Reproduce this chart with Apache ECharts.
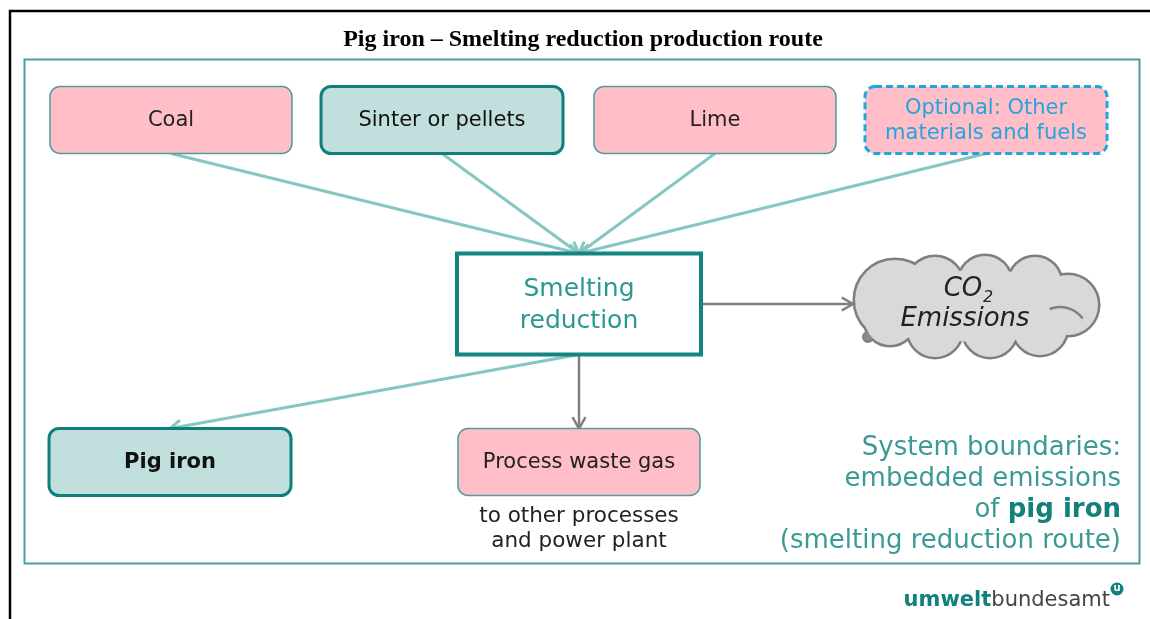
<!DOCTYPE html>
<html lang="en">
<head>
<meta charset="UTF-8">
<title>Pig iron – Smelting reduction production route</title>
<script src="https://cdn.jsdelivr.net/npm/echarts@6/dist/echarts.min.js"></script>
<style>
  html, body { margin: 0; padding: 0; background: #fff; }
  #main { width: 1150px; height: 619px; }
</style>
</head>
<body>
<div id="main"></div>
<script>
// diagram nodes (diagram units = one unit per px of the sheet)
var nodeNames = ['Coal', 'Sinter or pellets', 'Lime', 'Optional: Other\nmaterials and fuels',
                 'Smelting\nreduction', 'Pig iron', 'Process waste gas', 'CO2 Emissions'];
var nodeKinds = ['input', 'product', 'input', 'optional', 'process', 'product', 'input', 'cloud'];
var nodeX = [171, 442, 715, 986, 579, 170, 579, 975];
var nodeY = [120, 120, 120, 120, 304, 462, 462, 305];

// flows between nodes
var linkFrom = [0, 1, 2, 3, 4, 4, 4];
var linkTo   = [4, 4, 4, 4, 5, 6, 7];
var linkKind = ['feed', 'feed', 'feed', 'feed', 'feed', 'gas', 'gas'];

var FONT = '"DejaVu Sans", Verdana, sans-serif';
var TEAL = '#0f7f7b';
var PINK = '#ffbec8';
var MINT = '#c0dfdd';

var kindStyle = {
    input:    {w: 242, h: 67,  r: 10, fill: PINK, stroke: '#4c9f9c', lw: 1.5, dash: null, color: '#222', size: 21},
    product:  {w: 242, h: 67,  r: 10, fill: MINT, stroke: TEAL, lw: 3, dash: null, color: '#111', size: 21},
    optional: {w: 242, h: 67,  r: 10, fill: PINK, stroke: '#1ea7dd', lw: 3, dash: [7, 4], color: '#28a4dc', size: 21},
    process:  {w: 244, h: 101, r: 0,  fill: '#fff', stroke: '#138480', lw: 4, dash: null, color: '#2a9893', size: 25}
};

function box(i) {
    var k = nodeKinds[i];
    if (k === 'cloud') return {x0: 853, x1: 1098, y0: 257, y1: 357};
    var s = kindStyle[k];
    return {x0: nodeX[i] - s.w / 2, x1: nodeX[i] + s.w / 2, y0: nodeY[i] - s.h / 2, y1: nodeY[i] + s.h / 2};
}

// cloud outline made of overlapping bumps [dx, dy, r]
var cloudBumps = [[-80, -5, 40], [-40, -20, 28], [10, -23, 26], [60, -22, 26], [93, 0, 30],
                  [65, 23, 27], [15, 25, 27], [-40, 25, 27], [-85, 15, 25]];

function renderNode(params, api) {
    var i = api.value(2);
    var p = api.coord([api.value(0), api.value(1)]);
    var k = nodeKinds[i];
    if (k === 'cloud') {
        var outer = [], inner = [];
        cloudBumps.forEach(function (b) {
            outer.push({type: 'circle', shape: {cx: p[0] + b[0], cy: p[1] + b[1], r: b[2]},
                style: {fill: '#d9d9d9', stroke: '#7f7f7f', lineWidth: 5}});
            inner.push({type: 'circle', shape: {cx: p[0] + b[0], cy: p[1] + b[1], r: b[2]},
                style: {fill: '#d9d9d9'}});
        });
        inner.push({type: 'ellipse', shape: {cx: p[0] + 5, cy: p[1] + 1, rx: 100, ry: 36}, style: {fill: '#d9d9d9'}});
        var tail = [
            {type: 'circle', shape: {cx: p[0] - 107, cy: p[1] + 32, r: 5}, style: {fill: '#8a8a8a', stroke: '#7f7f7f', lineWidth: 2}},
            {type: 'circle', shape: {cx: p[0] - 100, cy: p[1] + 28, r: 4}, style: {fill: 'none', stroke: '#7f7f7f', lineWidth: 2}}
        ];
        var marks = [
            {type: 'arc', shape: {cx: p[0] + 85, cy: p[1] + 30, r: 28, startAngle: -Math.PI * 0.62, endAngle: -Math.PI * 0.2},
                style: {stroke: '#7f7f7f', lineWidth: 2.5, fill: null}}
        ];
        var texts = [
            {type: 'text', style: {text: 'CO', x: p[0] - 12, y: p[1] - 16, align: 'center', verticalAlign: 'middle',
                font: 'italic 26px ' + FONT, fill: '#222'}},
            {type: 'text', style: {text: '2', x: p[0] + 13, y: p[1] - 7, align: 'center', verticalAlign: 'middle',
                font: 'italic 16px ' + FONT, fill: '#222'}},
            {type: 'text', style: {text: 'Emissions', x: p[0] - 10, y: p[1] + 14, align: 'center', verticalAlign: 'middle',
                font: 'italic 26px ' + FONT, fill: '#222'}}
        ];
        return {type: 'group', children: outer.concat(tail, inner, marks, texts)};
    }
    var s = kindStyle[k];
    var sz = api.size([s.w, s.h]);
    return {
        type: 'group',
        children: [{
            type: 'rect',
            shape: {x: p[0] - sz[0] / 2, y: p[1] - sz[1] / 2, width: sz[0], height: sz[1], r: s.r},
            style: {fill: s.fill, stroke: s.stroke, lineWidth: s.lw, lineDash: s.dash}
        }, {
            type: 'text',
            style: {
                text: nodeNames[i], x: p[0], y: p[1] + 1, align: 'center', verticalAlign: 'middle',
                font: (i === 5 ? 'bold ' : '') + s.size + 'px ' + FONT,
                lineHeight: k === 'process' ? 32 : 25, fill: s.color
            }
        }]
    };
}

function renderLink(params, api) {
    var i = api.value(2);
    var a = box(linkFrom[i]), b = box(linkTo[i]);
    var s, e;
    if (nodeKinds[linkTo[i]] === 'cloud') {
        s = [a.x1, nodeY[linkFrom[i]]];
        e = [b.x0, nodeY[linkFrom[i]]];
    } else {
        s = [(a.x0 + a.x1) / 2, a.y1];
        e = [(b.x0 + b.x1) / 2, b.y0];
    }
    var ps = api.coord(s), pe = api.coord(e);
    var dx = pe[0] - ps[0], dy = pe[1] - ps[1];
    var len = Math.sqrt(dx * dx + dy * dy);
    var ux = dx / len, uy = dy / len;
    var L = 13, ang = Math.PI / 6;
    function rot(t) {
        return [pe[0] - L * (ux * Math.cos(t) - uy * Math.sin(t)),
                pe[1] - L * (ux * Math.sin(t) + uy * Math.cos(t))];
    }
    var gas = linkKind[i] === 'gas';
    var col = gas ? '#7f7f7f' : '#86c7c3';
    var lw = gas ? 2.5 : 3;
    return {
        type: 'group',
        children: [{
            type: 'line', shape: {x1: ps[0], y1: ps[1], x2: pe[0], y2: pe[1]},
            style: {stroke: col, lineWidth: lw}
        }, {
            type: 'polyline', shape: {points: [rot(ang), pe, rot(-ang)]},
            style: {stroke: col, lineWidth: lw, fill: null}
        }]
    };
}

var myChart = echarts.init(document.getElementById('main'), null, {renderer: 'canvas'});

var nodeData = nodeNames.map(function (n, i) { return [nodeX[i], nodeY[i], i]; });
var linkData = linkFrom.map(function (f, i) {
    return [(nodeX[f] + nodeX[linkTo[i]]) / 2, (nodeY[f] + nodeY[linkTo[i]]) / 2, i];
});

var option = {
    animation: false,
    backgroundColor: '#fff',
    title: {
        text: 'Pig iron – Smelting reduction production route',
        left: 578, top: 23, textAlign: 'center',
        textStyle: {fontFamily: '"Liberation Serif", "Times New Roman", serif', fontWeight: 'bold', fontSize: 24, color: '#000'}
    },
    grid: {left: 0, right: 0, top: 0, bottom: 0},
    xAxis: {type: 'value', min: 0, max: 1150, show: false},
    yAxis: {type: 'value', min: 0, max: 619, inverse: true, show: false},
    graphic: [
        {type: 'polyline', shape: {points: [[10, 619], [10, 11], [1150, 11]]}, style: {stroke: '#000', lineWidth: 2.5, fill: null}},
        {type: 'rect', shape: {x: 24.5, y: 59.5, width: 1115, height: 504}, style: {fill: null, stroke: '#45a19e', lineWidth: 2}},
        {type: 'text', style: {
            text: 'System boundaries:\nembedded emissions\nof {b|pig iron}\n(smelting reduction route)',
            x: 1121, y: 433, align: 'right', verticalAlign: 'top',
            font: '26px ' + FONT, fill: '#3a9a95', lineHeight: 31,
            rich: {b: {fontWeight: 'bold', fontSize: 26, fontFamily: FONT, fill: '#13807c', lineHeight: 31}}
        }},
        {type: 'text', style: {
            text: 'to other processes\nand power plant',
            x: 579, y: 504, align: 'center', verticalAlign: 'top',
            font: '21.5px ' + FONT, fill: '#222', lineHeight: 25
        }},
        {type: 'text', style: {
            text: '{u|umwelt}{d|bundesamt}',
            x: 1110, y: 601, align: 'right', verticalAlign: 'middle',
            rich: {
                u: {fontWeight: 'bold', fontSize: 21, fontFamily: FONT, fill: '#12807c'},
                d: {fontSize: 21, fontFamily: FONT, fill: '#444'}
            }
        }},
        {type: 'circle', shape: {cx: 1117, cy: 589, r: 6.5}, style: {fill: '#12807c'}},
        {type: 'text', style: {text: 'u', x: 1117, y: 588, align: 'center', verticalAlign: 'middle',
            font: 'bold 10px ' + FONT, fill: '#fff'}}
    ],
    series: [{
        type: 'custom', coordinateSystem: 'cartesian2d', clip: false, silent: true,
        renderItem: renderLink, data: linkData, z: 1
    }, {
        type: 'custom', coordinateSystem: 'cartesian2d', clip: false, silent: true,
        renderItem: renderNode, data: nodeData, z: 2
    }]
};
myChart.setOption(option);
</script>
</body>
</html>
